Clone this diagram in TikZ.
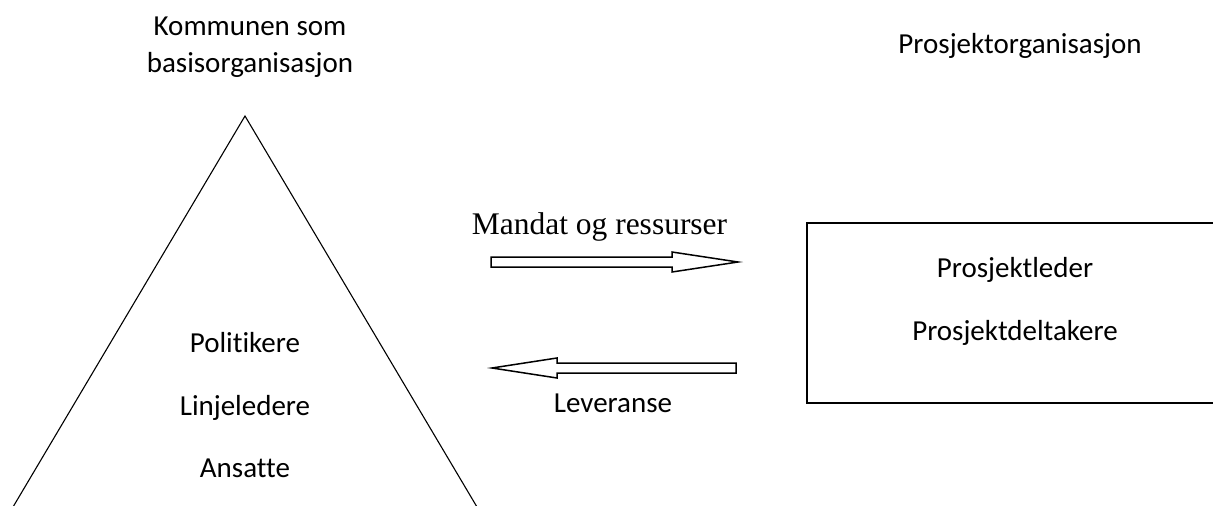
\documentclass[tikz,border=0pt]{standalone}
\usepackage{fontspec}
\setmainfont{Carlito}[Ligatures=CommonOff]
\newfontfamily\headserif{Liberation Serif}
\begin{document}
\begin{tikzpicture}[x=1pt,y=-1pt,
  lbl/.style={anchor=base,inner sep=0pt,font=\fontsize{29}{35}\selectfont},
  serif lbl/.style={anchor=base,inner sep=0pt,font=\headserif\fontsize{31.5}{36}\selectfont},
  outline/.style={draw=black,line width=1.5pt,line join=miter},
  thin outline/.style={draw=black,line width=1.1pt,line join=miter}]
\useasboundingbox (0,0) rectangle (1213,506);

% the municipality pyramid
\coordinate (apex) at (245,116);
\coordinate (baseL) at (13,507);
\coordinate (baseR) at (477,507);
\draw[thin outline] (baseL) -- (apex) -- (baseR);

\node[lbl] (head1) at (250,35) {Kommunen som};
\node[lbl] (head2) at (250,72) {basisorganisasjon};
\node[lbl] (pol) at (245,352) {Politikere};
\node[lbl] (lin) at (245,415) {Linjeledere};
\node[lbl] (ans) at (245,477) {Ansatte};

% the project organisation (box runs on past the right edge)
\node[lbl] (proj) at (1020,53) {Prosjektorganisasjon};
\draw[outline] (1215,223) -- (807,223) -- (807,403) -- (1215,403);
\node[lbl] (leader) at (1015,277) {Prosjektleder};
\node[lbl] (members) at (1015,340) {Prosjektdeltakere};

% block arrow: mandate and resources
\draw[outline] (491,257) -- (672,257) -- (672,252) -- (738,262)
  -- (672,272) -- (672,267) -- (491,267) -- cycle;
\node[serif lbl] (mandat) at (599.5,234) {Mandat og ressurser};

% block arrow: delivery
\draw[outline] (736,363) -- (557,363) -- (557,358) -- (492,368)
  -- (557,378) -- (557,373) -- (736,373) -- cycle;
\node[lbl] (lev) at (613,412) {Leveranse};
\end{tikzpicture}
\end{document}
